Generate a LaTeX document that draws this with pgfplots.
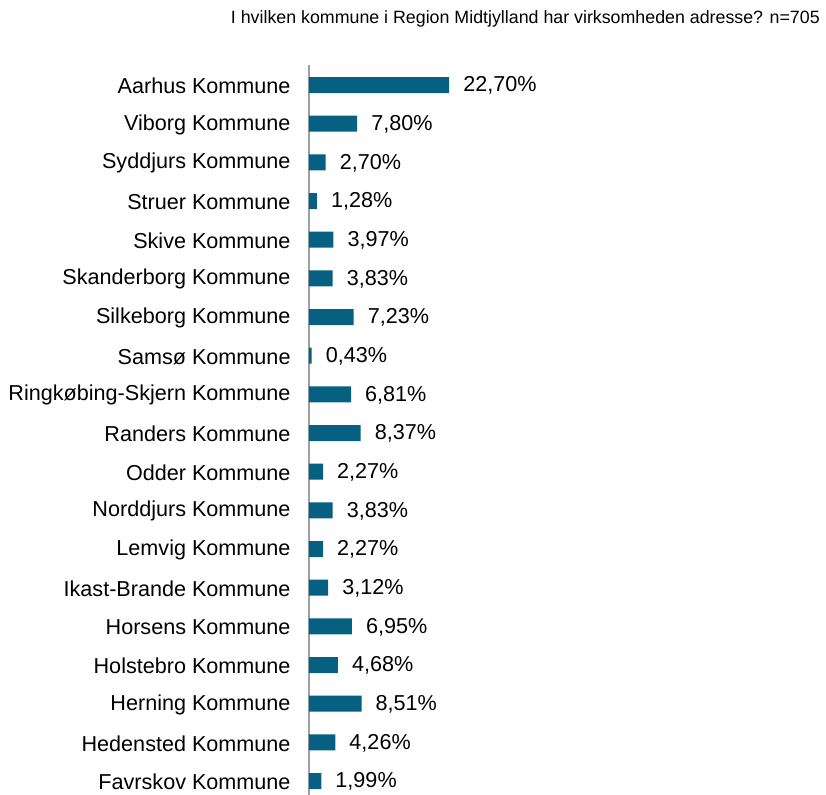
\documentclass[border=0pt]{standalone}
\usepackage{pgfplots}
\pgfplotsset{compat=1.18}
\usepackage{pgfplotstable}
\usepackage{fontspec}
\setmainfont{Liberation Sans}
\definecolor{barblue}{RGB}{6,96,130}
\definecolor{axgray}{RGB}{160,160,160}
\pgfplotstableread{
idx val
0 22.70
1 7.80
2 2.70
3 1.28
4 3.97
5 3.83
6 7.23
7 0.43
8 6.81
9 8.37
10 2.27
11 3.83
12 2.27
13 3.12
14 6.95
15 4.68
16 8.51
17 4.26
18 1.99
}\datatable
\begin{document}
\begin{tikzpicture}
\begin{axis}[
  at={(0,0)}, anchor=south west,
  x=6.17bp, y=38.67bp,
  y dir=reverse,
  xmin=0, xmax=80, ymin=-0.52, ymax=18.36,
  hide x axis,
  axis y line*=left,
  y axis line style={draw=axgray, line width=1.6bp},
  ytick={0,...,18},
  yticklabels={Aarhus Kommune, Viborg Kommune, Syddjurs Kommune, Struer Kommune, Skive Kommune, Skanderborg Kommune, Silkeborg Kommune, Samsø Kommune, Ringkøbing-Skjern Kommune, Randers Kommune, Odder Kommune, Norddjurs Kommune, Lemvig Kommune, Ikast-Brande Kommune, Horsens Kommune, Holstebro Kommune, Herning Kommune, Hedensted Kommune, Favrskov Kommune},
  ytick style={draw=none},
  yticklabel style={font=\fontsize{21.6bp}{25bp}\selectfont, anchor=east, inner sep=0pt, xshift=-14bp, yshift=-1bp},
  xbar, bar width=16bp,
  nodes near coords={\pgfmathprintnumber[fixed,fixed zerofill,precision=2,use comma,assume math mode=true]{\pgfplotspointmeta}\%},
  nodes near coords style={font=\fontsize{21.6bp}{25bp}\selectfont, anchor=west, inner sep=0pt, xshift=14bp, yshift=-0.5bp, text=black},
  point meta=x,
  clip=false,
]
\addplot[draw=none, fill=barblue] table[x=val, y=idx] {\datatable};
\end{axis}
\node[anchor=east, inner sep=0pt, font=\fontsize{17.8bp}{21bp}\selectfont] at (511bp,776bp) {I hvilken kommune i Region Midtjylland har virksomheden adresse? n=705};
\pgfresetboundingbox
\useasboundingbox (-309bp,0) rectangle (517bp,795bp);
\end{tikzpicture}
\end{document}
